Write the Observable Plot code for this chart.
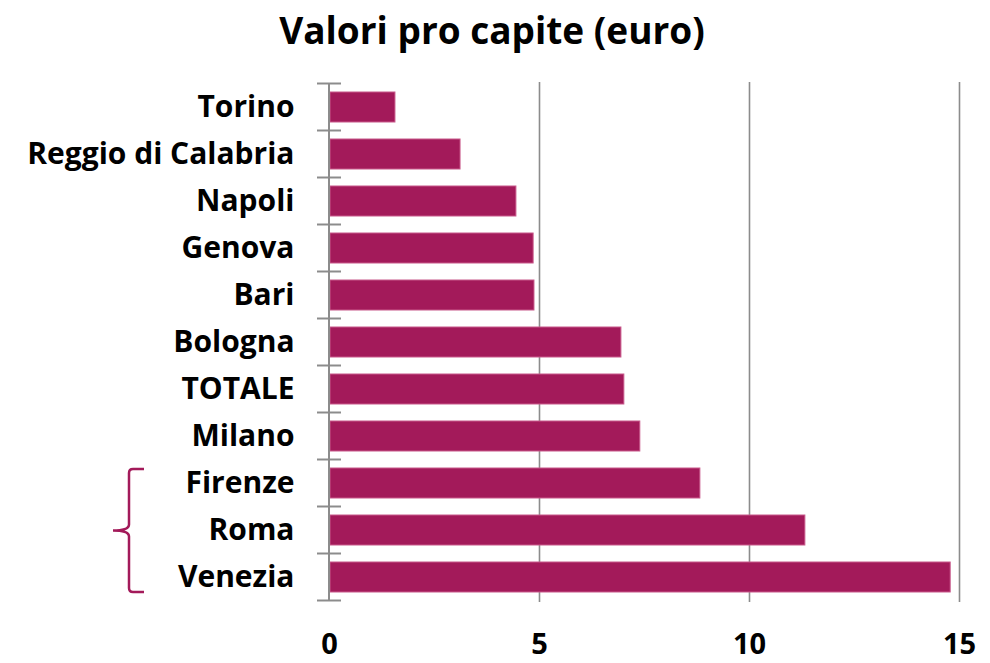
<!DOCTYPE html>
<html>
<head>
<meta charset="utf-8">
<script src="https://cdn.jsdelivr.net/npm/d3@7"></script>
<script src="https://cdn.jsdelivr.net/npm/@observablehq/plot@0.6"></script>
<style>
  html, body { margin: 0; padding: 0; background: #fff; }
  body { width: 990px; height: 663px; overflow: hidden; font-family: "Open Sans", sans-serif; }
  #title { height: 62px; line-height: 60px; text-align: center; font-weight: bold; font-size: 37px; color: #000; padding-right: 6px; }
  #chart svg { display: block; }
</style>
</head>
<body>
<div id="title">Valori pro capite (euro)</div>
<div id="chart"></div>
<script>
const cities = ["Torino", "Reggio di Calabria", "Napoli", "Genova", "Bari", "Bologna", "TOTALE", "Milano", "Firenze", "Roma", "Venezia"];
const values = [1.57, 3.12, 4.45, 4.86, 4.88, 6.95, 7.02, 7.40, 8.83, 11.33, 14.79];
const xTicks = [0, 5, 10, 15];
const gridTicks = [5, 10, 15];
const braced = ["Firenze", "Roma", "Venezia"];

const data = cities.map((c, i) => ({city: c, value: values[i]}));
const color = "#a31a5a";

function bandTicks(index, scales, vals, dims) {
  const y = scales.y;
  const step = y.step(), bw = y.bandwidth();
  const gap = (step - bw) / 2;
  const x0 = scales.x(0);
  const g = d3.create("svg:g").attr("stroke", "#8c8c8c").attr("stroke-width", 2);
  const ys = cities.map(c => y(c) - gap);
  ys.push(y(cities[cities.length - 1]) + bw + gap);
  g.selectAll("line").data(ys).join("line")
    .attr("x1", x0 - 12).attr("x2", x0 + 12)
    .attr("y1", d => d).attr("y2", d => d);
  g.append("line").attr("x1", x0).attr("x2", x0)
    .attr("y1", ys[0]).attr("y2", ys[ys.length - 1]);
  return g.node();
}

function brace(index, scales, vals, dims) {
  const y = scales.y;
  const bw = y.bandwidth();
  const top = y(braced[0]) + 1;
  const bot = y(braced[braced.length - 1]) + bw;
  const mid = (top + bot) / 2;
  const xl = scales.x(0) - 200;
  const path = `M${xl + 15},${top} L${xl + 4},${top} Q${xl},${top} ${xl},${top + 4} L${xl},${mid - 6} Q${xl},${mid} ${xl - 16},${mid} Q${xl},${mid} ${xl},${mid + 6} L${xl},${bot - 4} Q${xl},${bot} ${xl + 4},${bot} L${xl + 15},${bot}`;
  const g = d3.create("svg:g");
  g.append("path").attr("d", path).attr("fill", "none").attr("stroke", color).attr("stroke-width", 2.5);
  return g.node();
}

const chart = Plot.plot({
  width: 990,
  height: 601,
  marginTop: 20,
  marginBottom: 61,
  marginLeft: 329,
  marginRight: 31,
  style: {fontFamily: "'Open Sans', sans-serif", fontWeight: "bold", fontSize: "30px", color: "#000", background: "#fff"},
  x: {domain: [0, 15], ticks: xTicks, label: null},
  y: {domain: cities, paddingInner: 0.37, paddingOuter: 0.185, label: null},
  marks: [
    Plot.ruleX(gridTicks, {stroke: "#8c8c8c", strokeWidth: 1.6}),
    Plot.barX(data, {y: "city", x: "value", fill: color, stroke: "#c8588a", strokeWidth: 1, insetLeft: 1}),
    bandTicks,
    brace,
    Plot.axisX(xTicks, {tickSize: 0, tickPadding: 31, fontSize: 29, fontWeight: "bold"}),
    Plot.axisY({tickSize: 0, tickPadding: 35, fontSize: 30, fontWeight: "bold"})
  ]
});
document.getElementById("chart").appendChild(chart);
</script>
</body>
</html>
